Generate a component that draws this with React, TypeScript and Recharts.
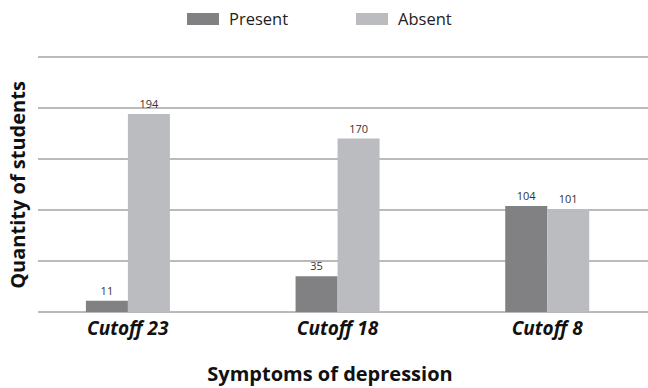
import React from 'react'
import { BarChart, Bar, XAxis, YAxis, CartesianGrid, LabelList, Label } from 'recharts'

const categories = ['Cutoff 23', 'Cutoff 18', 'Cutoff 8']
const present = [11, 35, 104]
const absent = [194, 170, 101]
const yTicks = [0, 50, 100, 150, 200, 250]

const data = categories.map((c, i) => ({ name: c, Present: present[i], Absent: absent[i] }))

const FONT = '"Open Sans", sans-serif'
const colors: Record<string, string> = { Present: '#818184', Absent: '#bbbcbf' }

const LegendRow = () => (
  <div style={{ position: 'absolute', left: 187, top: 7, display: 'flex', alignItems: 'center', fontFamily: FONT, fontSize: 16.5, color: '#222', lineHeight: '24px' }}>
    {['Present', 'Absent'].map((k, i) => (
      <div key={k} style={{ display: 'flex', alignItems: 'center', marginLeft: i ? 68 : 0 }}>
        <span style={{ display: 'inline-block', width: 32, height: 12, background: colors[k], marginRight: 10 }} />
        <span>{k}</span>
      </div>
    ))}
  </div>
)

const gridLine = (props: any) => (
  <line key={`g-${props.index}`} x1={props.x1 + 15} x2={props.x2} y1={props.y1} y2={props.y2} stroke="#a3a3a3" strokeWidth={1.6} />
)

export default function App() {
  return (
    <div style={{ position: 'absolute', left: 0, top: 0, width: 648, height: 388, overflow: 'hidden', background: '#fff' }}>
      <BarChart width={652} height={388} data={data} margin={{ top: 57, right: 0, bottom: 0, left: 0 }}
        barCategoryGap="30%" barGap={0}>
        <CartesianGrid vertical={false} horizontal={gridLine} />
        <YAxis domain={[0, 250]} ticks={yTicks} interval={0} width={23} axisLine={false} tickLine={false} tick={() => null}>
          <Label content={() => (
            <text x={0} y={0} transform="translate(25,185) rotate(-90)" textAnchor="middle"
              fontFamily={FONT} fontWeight={700} fontSize={20} fill="#111">Quantity of students</text>
          )} />
        </YAxis>
        <XAxis dataKey="name" height={76} axisLine={false} tickLine={false}
          tick={({ x, y, payload }: any) => (
            <text x={x} y={y + 15} textAnchor="middle" fontFamily={FONT} fontWeight={700} fontStyle="italic" fontSize={19} fill="#111">{payload.value}</text>
          )}>
          <Label content={() => (
            <text x={330} y={381} textAnchor="middle" fontFamily={FONT} fontWeight={700} fontSize={20} fill="#111">Symptoms of depression</text>
          )} />
        </XAxis>
        <Bar dataKey="Present" fill={colors.Present} isAnimationActive={false}>
          <LabelList dataKey="Present" position="top" offset={6} fontFamily={FONT} fontSize={11} fill="#333" />
        </Bar>
        <Bar dataKey="Absent" fill={colors.Absent} isAnimationActive={false}>
          <LabelList dataKey="Absent" position="top" offset={6} fontFamily={FONT} fontSize={11} fill="#333" />
        </Bar>
      </BarChart>
      <LegendRow />
    </div>
  )
}
